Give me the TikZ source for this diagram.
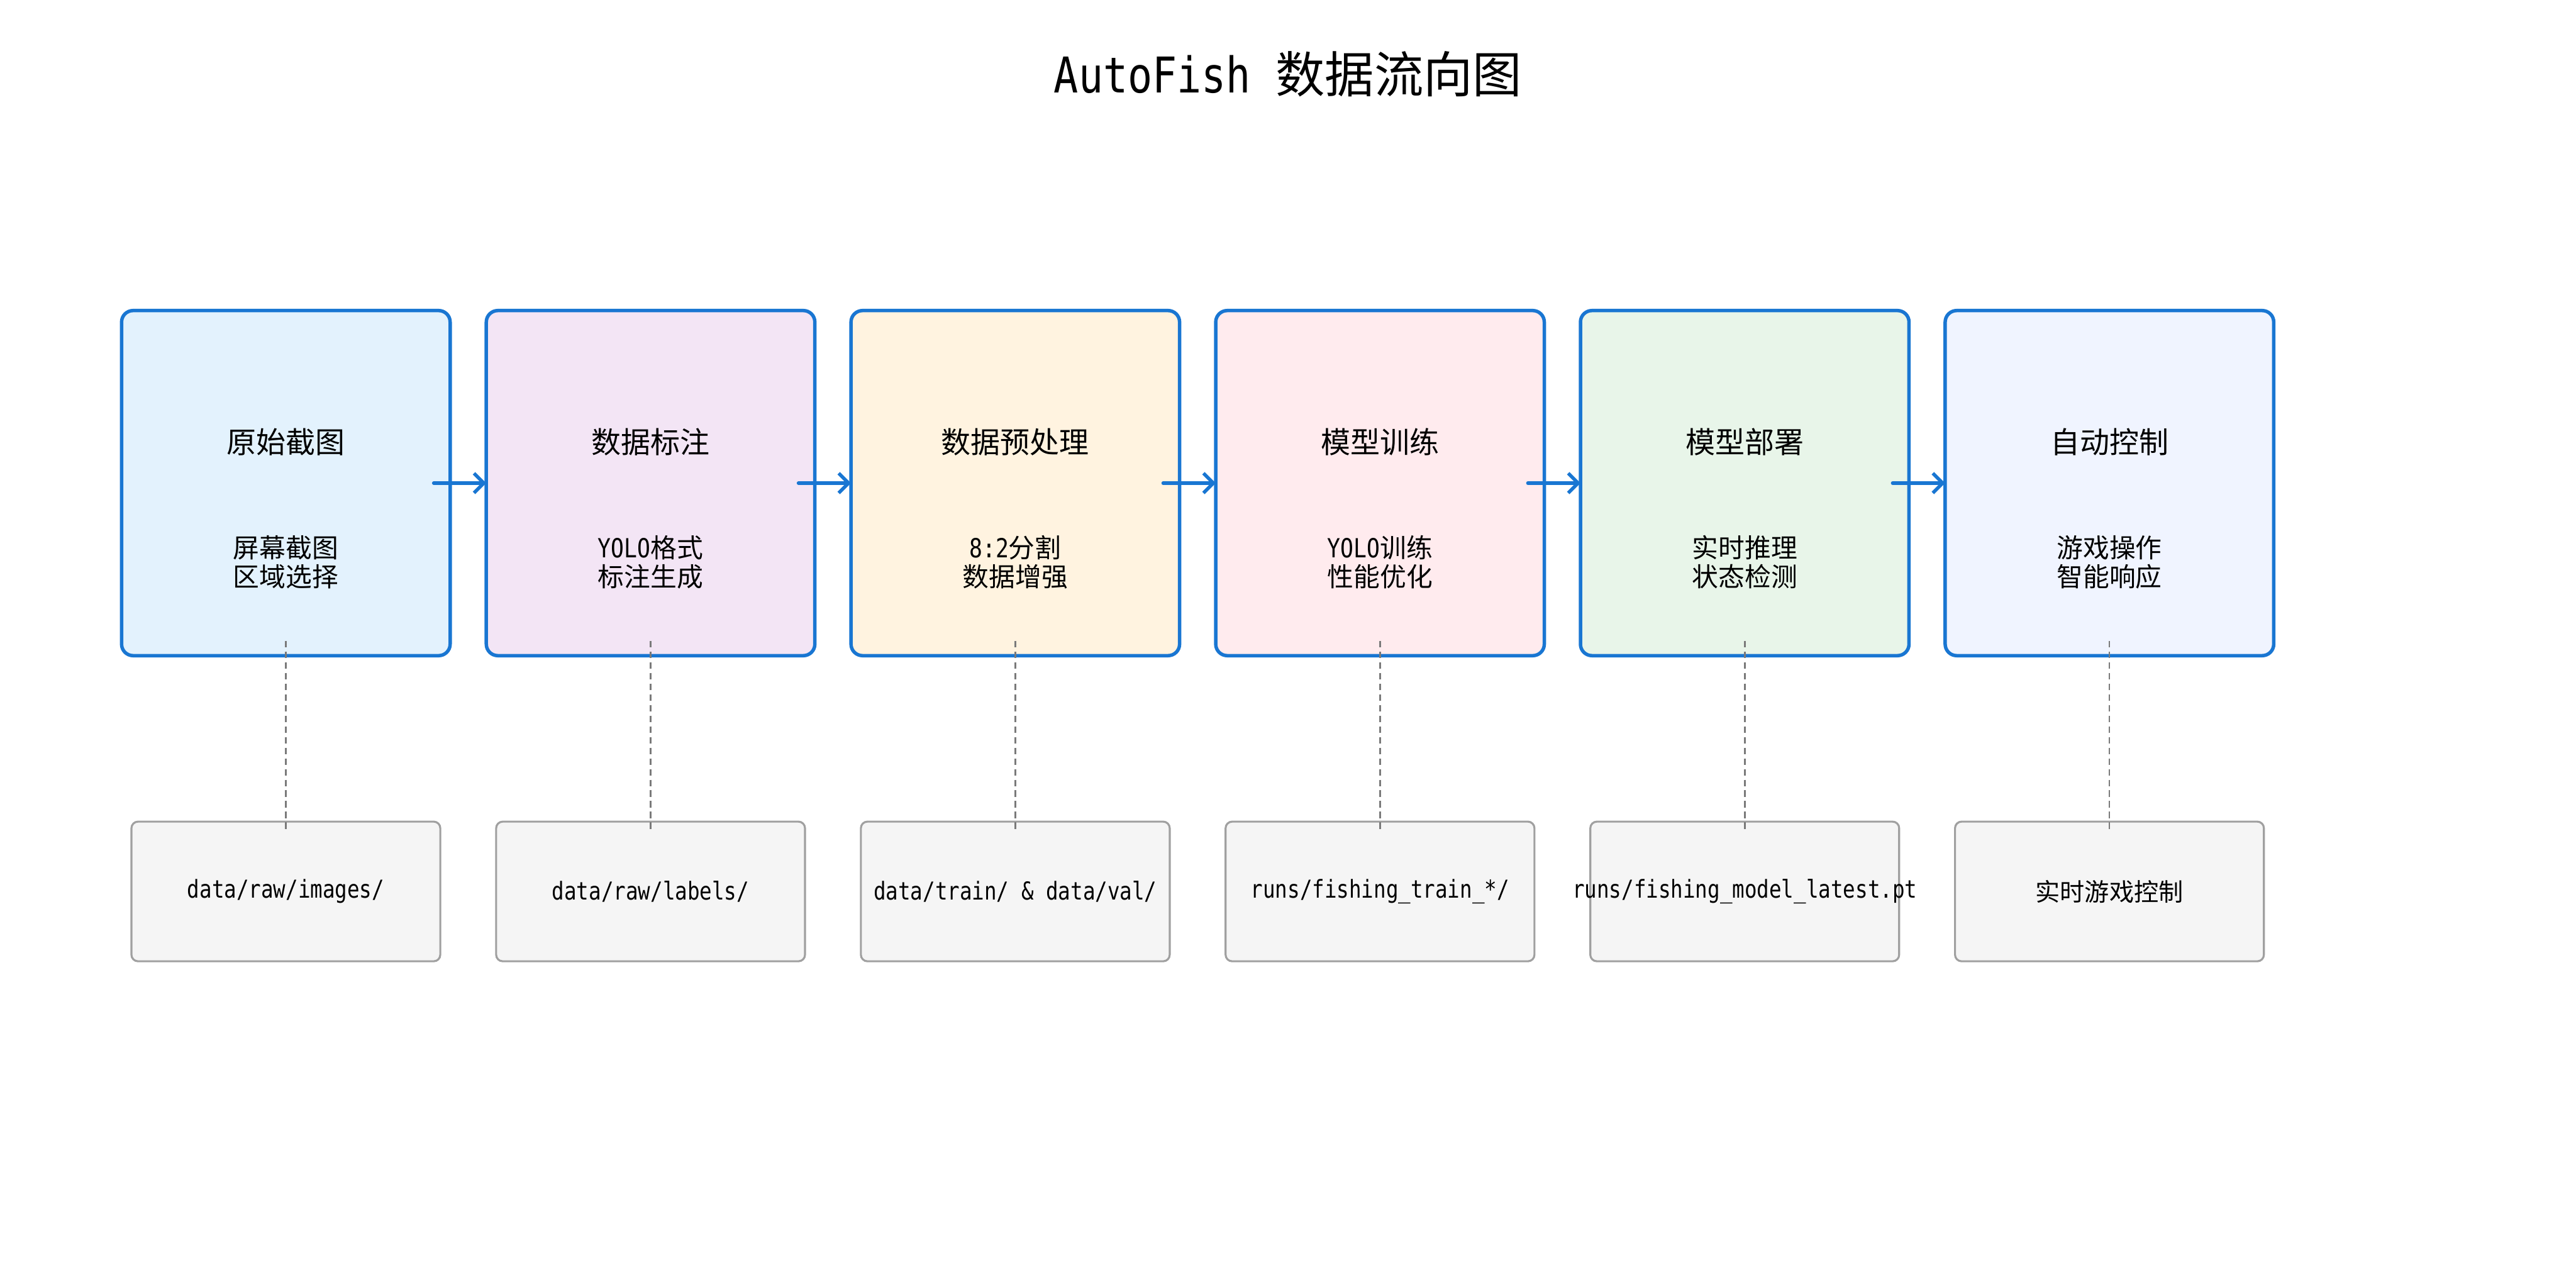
\documentclass[tikz,border=0pt]{standalone}
\usepackage{fontspec}
\setmainfont[FakeStretch=0.83]{DejaVu Sans Mono}
\newfontfamily\cjk{Noto Sans CJK SC}
\usepackage{xcolor}
\usepackage{tikz}
\usetikzlibrary{arrows.meta,positioning}

\definecolor{flowblue}{HTML}{1976D2}
\definecolor{rawfill}{HTML}{E3F2FD}
\definecolor{labelfill}{HTML}{F3E5F5}
\definecolor{prepfill}{HTML}{FFF3E0}
\definecolor{trainfill}{HTML}{FFEBEE}
\definecolor{deployfill}{HTML}{E8F5E9}
\definecolor{controlfill}{HTML}{F0F4FF}
\definecolor{pathfill}{HTML}{F5F5F5}
\definecolor{boxgray}{HTML}{A0A0A0}
\definecolor{linkgray}{HTML}{7A7A7A}
\newcommand\latn[1]{{\rmfamily #1}}

\begin{document}
\begin{tikzpicture}[
  stagebox/.style={draw=flowblue, line width=2.1pt, rounded corners=7pt, minimum width=200pt, minimum height=210pt, outer sep=0pt, fill=#1},
  stagetitle/.style={font=\fontsize{18}{20}\selectfont\cjk},
  stagesub/.style={align=center, font=\fontsize{16}{17.5}\selectfont\cjk},
  pathbox/.style={draw=boxgray, line width=1.2pt, rounded corners=4pt, minimum width=188pt, minimum height=85pt, outer sep=0pt, fill=pathfill, font=\fontsize{15}{17}\selectfont},
  flow/.style={-{Straight Barb[length=6pt,width=12pt]}, line width=2.1pt, draw=flowblue, line cap=round},
  link/.style={draw=linkgray, line width=1pt, dash pattern=on 4pt off 2.5pt},
  node distance=101pt and 22pt,
]
  \useasboundingbox (0,0) rectangle (1568pt,780pt);

  % Title
  \node[font=\fontsize{30}{32}\selectfont] (title) at (784pt,735pt) {AutoFish {\cjk 数据流向图}};

  % Stages
  \node[stagebox=rawfill] (raw) at (174pt,486pt) {};
  \node[stagebox=labelfill, right=of raw] (label) {};
  \node[stagebox=prepfill, right=of label] (prep) {};
  \node[stagebox=trainfill, right=of prep] (train) {};
  \node[stagebox=deployfill, right=of train] (deploy) {};
  \node[stagebox=controlfill, right=of deploy] (control) {};

  \node[stagetitle] at ([yshift=25pt]raw.center) {原始截图};
  \node[stagesub] at ([yshift=-48pt]raw.center) {屏幕截图\\区域选择};
  \node[stagetitle] at ([yshift=25pt]label.center) {数据标注};
  \node[stagesub] at ([yshift=-48pt]label.center) {\latn{YOLO}格式\\标注生成};
  \node[stagetitle] at ([yshift=25pt]prep.center) {数据预处理};
  \node[stagesub] at ([yshift=-48pt]prep.center) {\latn{8:2}分割\\数据增强};
  \node[stagetitle] at ([yshift=25pt]train.center) {模型训练};
  \node[stagesub] at ([yshift=-48pt]train.center) {\latn{YOLO}训练\\性能优化};
  \node[stagetitle] at ([yshift=25pt]deploy.center) {模型部署};
  \node[stagesub] at ([yshift=-48pt]deploy.center) {实时推理\\状态检测};
  \node[stagetitle] at ([yshift=25pt]control.center) {自动控制};
  \node[stagesub] at ([yshift=-48pt]control.center) {游戏操作\\智能响应};

  % Storage
  \node[pathbox, below=of raw] (rawdir) {data/raw/images/};
  \node[pathbox, below=of label] (labeldir) {data/raw/labels/};
  \node[pathbox, below=of prep] (splitdir) {data/train/ \& data/val/};
  \node[pathbox, below=of train] (rundir) {runs/fishing\_train\_*/};
  \node[pathbox, below=of deploy] (modelfile) {\makebox[0pt]{runs/fishing\_model\_latest.pt}};
  \node[pathbox, below=of control] (live) {{\cjk 实时游戏控制}};

  % Arrows
  \draw[flow] ([xshift=-10pt]raw.east) -- (label.west);
  \draw[flow] ([xshift=-10pt]label.east) -- (prep.west);
  \draw[flow] ([xshift=-10pt]prep.east) -- (train.west);
  \draw[flow] ([xshift=-10pt]train.east) -- (deploy.west);
  \draw[flow] ([xshift=-10pt]deploy.east) -- (control.west);

  % Links to storage
  \draw[link] ([yshift=9pt]raw.south) -- ([yshift=-5pt]rawdir.north);
  \draw[link] ([yshift=9pt]label.south) -- ([yshift=-5pt]labeldir.north);
  \draw[link] ([yshift=9pt]prep.south) -- ([yshift=-5pt]splitdir.north);
  \draw[link] ([yshift=9pt]train.south) -- ([yshift=-5pt]rundir.north);
  \draw[link] ([yshift=9pt]deploy.south) -- ([yshift=-5pt]modelfile.north);
  \draw[link] ([yshift=9pt]control.south) -- ([yshift=-5pt]live.north);
\end{tikzpicture}
\end{document}
